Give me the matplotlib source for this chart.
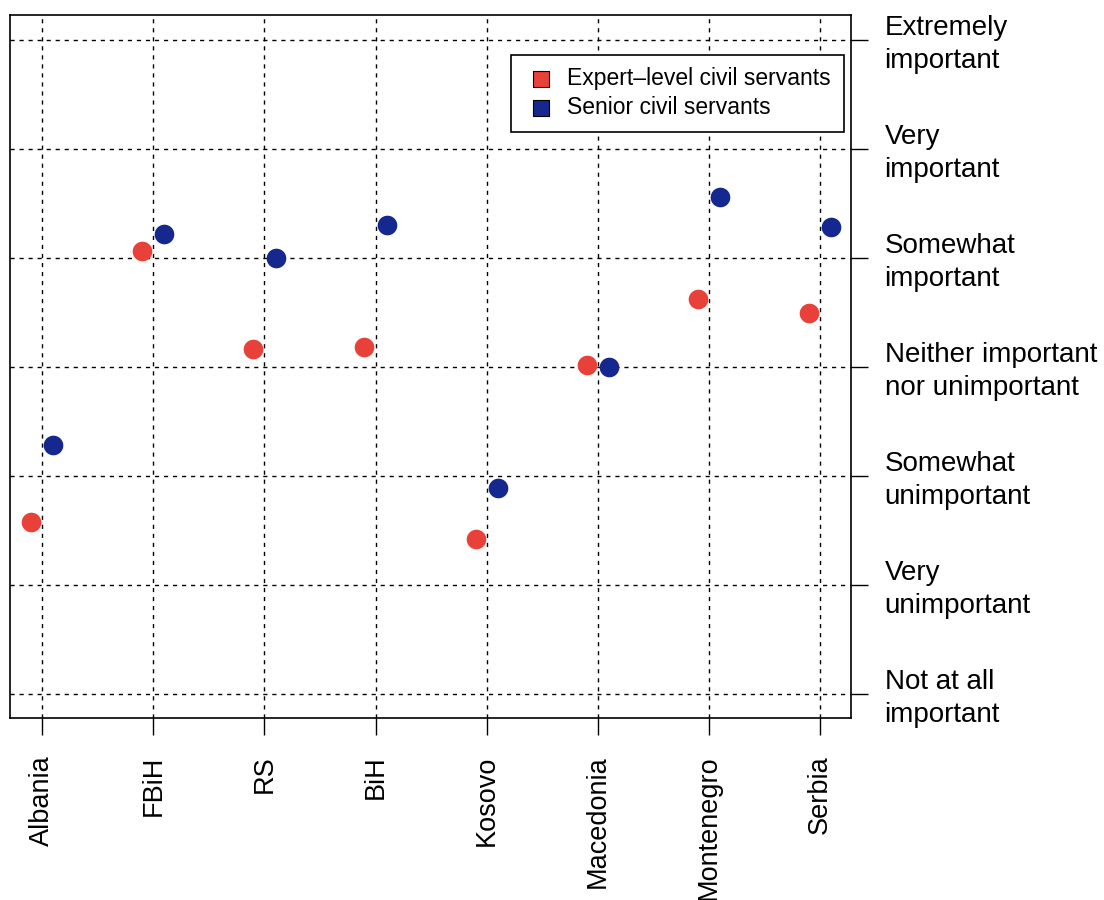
import numpy as np
import matplotlib.pyplot as plt
import matplotlib.transforms as mtransforms

# data (1 = Not at all important ... 7 = Extremely important)
countries = ["Albania", "FBiH", "RS", "BiH", "Kosovo", "Macedonia", "Montenegro", "Serbia"]
expert = [2.58, 5.07, 4.17, 4.19, 2.42, 4.02, 4.63, 4.50]
senior = [3.29, 5.22, 5.00, 5.31, 2.89, 4.00, 5.56, 5.29]
levels = ["Not at all\nimportant", "Very\nunimportant", "Somewhat\nunimportant",
          "Neither important\nnor unimportant", "Somewhat\nimportant", "Very\nimportant",
          "Extremely\nimportant"]

red = "#e8413a"
blue = "#15288f"

plt.rcParams['font.family'] = ['Liberation Sans', 'DejaVu Sans']

fig = plt.figure(figsize=(11.04, 9), dpi=100)
ax = fig.add_axes([0.009, 0.202, 0.762, 0.781])

x = np.arange(1, len(countries) + 1)
ax.scatter(x - 0.1, expert, s=200, color=red, zorder=3, linewidths=0)
ax.scatter(x + 0.1, senior, s=200, color=blue, zorder=3, linewidths=0)

ax.set_xlim(0.71, 8.28)
ax.set_ylim(0.78, 7.23)

ax.set_xticks(x)
ax.set_xticklabels(countries, rotation=90, fontsize=19.5)
ax.set_yticks(np.arange(1, 8))
ax.set_yticklabels(levels, fontsize=20, ha="left", va="center", linespacing=1.35)
ax.yaxis.tick_right()
ax.tick_params(axis="y", length=12, width=1, pad=12)
ax.tick_params(axis="x", length=12, width=1, pad=15)

# nudge the two-line labels down a little, as in the reference
shift = mtransforms.ScaledTranslation(0, -4 / 100, fig.dpi_scale_trans)
for lab in ax.get_yticklabels():
    lab.set_transform(lab.get_transform() + shift)

ax.grid(True, color="black", linestyle=(0, (3, 3.5)), linewidth=1)
ax.set_axisbelow(True)
for sp in ax.spines.values():
    sp.set_linewidth(1.2)

h1 = ax.scatter([], [], marker="s", s=130, color=red, edgecolors="black", linewidths=0.8)
h2 = ax.scatter([], [], marker="s", s=130, color=blue, edgecolors="black", linewidths=0.8)
leg = ax.legend([h1, h2], ["Expert\u2013level civil servants", "Senior civil servants"],
                loc="upper right", bbox_to_anchor=(0.991, 0.944), fontsize=16.5,
                fancybox=False, framealpha=1, edgecolor="black", borderpad=0.55,
                handletextpad=0.4, labelspacing=0.25, borderaxespad=0,
                handlelength=1.5)
leg.get_frame().set_linewidth(1.2)

fig.savefig("out.png", dpi=100)
